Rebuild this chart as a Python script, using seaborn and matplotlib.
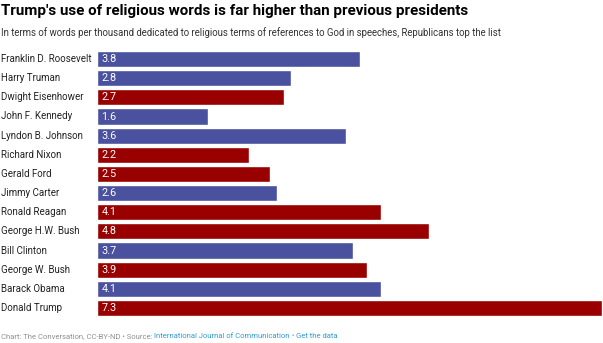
import matplotlib
matplotlib.use("Agg")
import matplotlib.pyplot as plt
import seaborn as sns
import pandas as pd

presidents = ["Franklin D. Roosevelt", "Harry Truman", "Dwight Eisenhower", "John F. Kennedy",
              "Lyndon B. Johnson", "Richard Nixon", "Gerald Ford", "Jimmy Carter",
              "Ronald Reagan", "George H.W. Bush", "Bill Clinton", "George W. Bush",
              "Barack Obama", "Donald Trump"]
values = [3.8, 2.8, 2.7, 1.6, 3.6, 2.2, 2.5, 2.6, 4.1, 4.8, 3.7, 3.9, 4.1, 7.3]
party = ["D", "D", "R", "D", "D", "R", "R", "D", "R", "R", "D", "R", "D", "R"]

BLUE = "#4a519e"
RED = "#990000"

df = pd.DataFrame({"president": presidents, "value": values, "party": party})

sns.set_theme(style="white")
plt.rcParams['font.family'] = ['Roboto', 'DejaVu Sans']

W, H = 603, 343
fig = plt.figure(figsize=(W / 100, H / 100), dpi=100)
ax = fig.add_axes([97 / W, 1 - 317.5 / H, 505 / W, (317.5 - 49.5) / H])

sns.barplot(data=df, y="president", x="value", hue="party", order=presidents,
            palette={"D": BLUE, "R": RED}, dodge=False, legend=False,
            width=0.84, ax=ax, saturation=1)

ax.set_xlim(0, 7.3)
ax.set_ylim(13.5, -0.5)
ax.set_xlabel("")
ax.set_ylabel("")
ax.set_xticks([])
ax.set_yticks([])
for s in ax.spines.values():
    s.set_visible(False)

for i, (name, v) in enumerate(zip(presidents, values)):
    ax.text(0.065, i, f"{v:.1f}", color="white", fontsize=7.8, va="center", ha="left")
    fig.text(1 / W, 1 - (59 + i * 19.15) / H, name, fontsize=7.0, va="center",
             ha="left", color="#222222")

fig.text(1 / W, 1 - 11.5 / H, "Trump's use of religious words is far higher than previous presidents",
         fontsize=10.9, fontweight="bold", va="center", ha="left", color="#000000")
fig.text(1 / W, 1 - 33 / H,
         "In terms of words per thousand dedicated to religious terms of references to God in speeches, Republicans top the list",
         fontsize=6.95, va="center", ha="left", color="#333333")

# footer
y_f = 1 - 336 / H
FS = 5.5
t1 = fig.text(1 / W, y_f, "Chart: The Conversation, CC-BY-ND \u2022 Source: ", fontsize=FS,
              color="#909090", va="center", ha="left")
fig.canvas.draw()
r = fig.canvas.get_renderer()
bb = t1.get_window_extent(r)
t2 = fig.text(bb.x1 / W, y_f, "International Journal of Communication", fontsize=FS,
              color="#2f9dcc", va="center", ha="left")
bb2 = t2.get_window_extent(r)
t3 = fig.text(bb2.x1 / W, y_f, " \u2022 ", fontsize=FS, color="#909090", va="center", ha="left")
bb3 = t3.get_window_extent(r)
fig.text(bb3.x1 / W, y_f, "Get the data", fontsize=FS, color="#2f9dcc", va="center", ha="left")

fig.savefig("out.png", dpi=100)
